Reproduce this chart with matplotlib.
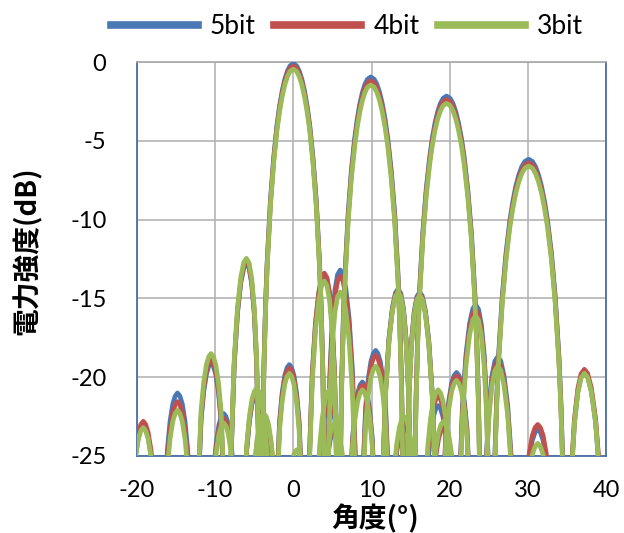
import matplotlib
matplotlib.use("Agg")
import matplotlib.pyplot as plt
from matplotlib.lines import Line2D

# ---------------- data (angle in degrees, power in dB) ----------------
series_names = ["5bit", "4bit", "3bit"]
series_colors = ["#4A78B5", "#C0504D", "#9BBB59"]
x_ticks = [-20, -10, 0, 10, 20, 30, 40]
y_ticks = [-25, -20, -15, -10, -5, 0]

# ---- beam steered to 0 deg ----
ang_b0 = [-21.41,
          -20.97, -20.52, -20.17, -19.82, -19.51, -19.20, -18.89, -18.58, -18.22, -17.87, -17.42,
          -16.98,
          -16.55, -16.11, -15.77, -15.42, -15.12, -14.82, -14.51, -14.21, -13.86, -13.52, -13.08,
          -12.65,
          -12.23, -11.80, -11.46, -11.12, -10.82, -10.53, -10.23, -9.93, -9.59, -9.25, -8.83,
          -8.40,
          -7.98, -7.56, -7.14, -6.72, -6.34, -6.00, -5.66, -5.33, -4.99, -4.70, -4.44,
          -4.19,
          -3.98, -3.77, -3.56, -3.35, -2.93, -2.51, -2.10, -1.76, -1.42, -1.09, -0.75, -0.42, 0.00,
          0.42, 0.75, 1.09, 1.42, 1.76, 2.10, 2.51, 2.93, 3.35, 3.56, 3.77, 3.98,
          4.19,
          4.44, 4.70, 4.99, 5.33, 5.66, 6.00, 6.34, 6.72, 7.14, 7.56, 7.98,
          8.40,
          8.83, 9.25, 9.59, 9.93, 10.23, 10.53, 10.82, 11.12, 11.46, 11.80, 12.23,
          12.65, 16.98,
          17.42, 17.87, 18.22, 18.58, 18.89, 19.20, 19.51, 19.82, 20.17, 20.52, 20.97,
          21.41, 40.0]
db5_b0 = [-40,
          -31.9, -26.7, -24.9, -23.8, -23.3, -23.1, -23.3, -23.8, -24.9, -26.7, -31.9,
          -40,
          -29.8, -24.6, -22.8, -21.7, -21.2, -21.0, -21.2, -21.7, -22.8, -24.6, -29.8,
          -40,
          -27.9, -22.7, -20.9, -19.8, -19.3, -19.1, -19.3, -19.8, -20.9, -22.7, -27.9,
          -40,
          -25.3, -19.2, -15.9, -14.0, -13.06, -12.8, -13.09, -14.05, -16.0, -19.1, -24.5,
          -40,
          -25.7, -19.4, -15.5, -12.7, -8.78, -6.05, -4.02, -2.79, -1.82, -1.09, -0.57, -0.24, -0.1,
          -0.24, -0.57, -1.09, -1.82, -2.79, -4.02, -6.05, -8.78, -12.7, -15.5, -19.4, -25.7,
          -40,
          -24.9, -19.5, -16.4, -14.45, -13.49, -13.2, -13.46, -14.4, -16.3, -19.6, -25.7,
          -40,
          -27.1, -21.9, -20.1, -19.0, -18.5, -18.3, -18.5, -19.0, -20.1, -21.9, -27.1,
          -40, -40,
          -31.8, -26.6, -24.8, -23.7, -23.2, -23.0, -23.2, -23.7, -24.8, -26.6, -31.8,
          -40, -40]
db4_b0 = [-40,
          -31.6, -26.4, -24.6, -23.5, -23.0, -22.8, -23.0, -23.5, -24.6, -26.4, -31.6,
          -40,
          -30.35, -25.15, -23.35, -22.25, -21.75, -21.55, -21.75, -22.25, -23.35, -25.15, -30.35,
          -40,
          -27.7, -22.5, -20.7, -19.6, -19.1, -18.9, -19.1, -19.6, -20.7, -22.5, -27.7,
          -40,
          -25.2, -19.1, -15.8, -13.9, -12.96, -12.7, -12.99, -13.95, -15.9, -19.0, -24.4,
          -40,
          -25.85, -19.55, -15.65, -12.85, -8.93, -6.2, -4.17, -2.94, -1.97, -1.24, -0.72, -0.39, -0.25,
          -0.39, -0.72, -1.24, -1.97, -2.94, -4.17, -6.2, -8.93, -12.85, -15.65, -19.55, -25.85,
          -40,
          -25.3, -19.9, -16.8, -14.85, -13.89, -13.6, -13.86, -14.8, -16.7, -20.0, -26.1,
          -40,
          -27.4, -22.2, -20.4, -19.3, -18.8, -18.6, -18.8, -19.3, -20.4, -22.2, -27.4,
          -40, -40,
          -32.0, -26.8, -25.0, -23.9, -23.4, -23.2, -23.4, -23.9, -25.0, -26.8, -32.0,
          -40, -40]
db3_b0 = [-40,
          -32.0, -26.8, -25.0, -23.9, -23.4, -23.2, -23.4, -23.9, -25.0, -26.8, -32.0,
          -40,
          -30.9, -25.7, -23.9, -22.8, -22.3, -22.1, -22.3, -22.8, -23.9, -25.7, -30.9,
          -40,
          -27.3, -22.1, -20.3, -19.2, -18.7, -18.5, -18.7, -19.2, -20.3, -22.1, -27.3,
          -40,
          -24.96, -18.86, -15.56, -13.66, -12.72, -12.46, -12.75, -13.71, -15.66, -18.76, -24.16,
          -40,
          -26.05, -19.75, -15.85, -13.05, -9.13, -6.4, -4.37, -3.14, -2.17, -1.44, -0.92, -0.59, -0.45,
          -0.59, -0.92, -1.44, -2.17, -3.14, -4.37, -6.4, -9.13, -13.05, -15.85, -19.75, -26.05,
          -40,
          -26.3, -20.9, -17.8, -15.85, -14.89, -14.6, -14.86, -15.8, -17.7, -21.0, -27.1,
          -40,
          -28.1, -22.9, -21.1, -20.0, -19.5, -19.3, -19.5, -20.0, -21.1, -22.9, -28.1,
          -40, -40,
          -31.6, -26.4, -24.6, -23.5, -23.0, -22.8, -23.0, -23.5, -24.6, -26.4, -31.6,
          -40, -40]

# ---- beam steered to 10 deg ----
ang_b10 = [-20.0, -11.03,
           -10.61, -10.18, -9.85, -9.51, -9.21, -8.92, -8.62, -8.32, -7.98, -7.65, -7.22,
           -6.80,
           -6.38, -5.96, -5.62, -5.29, -4.99, -4.70, -4.41, -4.11, -3.78, -3.44, -3.02,
           -2.60,
           -2.18, -1.76, -1.43, -1.10, -0.80, -0.51, -0.22, 0.08, 0.41, 0.74, 1.16,
           1.58,
           2.00, 2.42, 2.84, 3.26, 3.63, 3.97, 4.30, 4.64, 4.97, 5.27, 5.52,
           5.77,
           5.98, 6.18, 6.39, 6.60, 7.01, 7.42, 7.84, 8.17, 8.50, 8.83, 9.16, 9.49, 9.90,
           10.34, 10.69, 11.04, 11.39, 11.74, 12.09, 12.53, 12.97, 13.40, 13.62, 13.84, 14.06,
           14.28,
           14.54, 14.80, 15.11, 15.46, 15.81, 16.16, 16.50, 16.90, 17.33, 17.77, 18.20,
           18.64,
           19.09, 19.54, 19.89, 20.25, 20.57, 20.88, 21.19, 21.51, 21.87, 22.22, 22.67,
           23.12, 40.0]
db5_b10 = [-40, -40,
           -31.1, -25.9, -24.1, -23.0, -22.5, -22.3, -22.5, -23.0, -24.1, -25.9, -31.1,
           -40,
           -29.8, -24.6, -22.8, -21.7, -21.2, -21.0, -21.2, -21.7, -22.8, -24.6, -29.8,
           -40,
           -28.0, -22.8, -21.0, -19.9, -19.4, -19.2, -19.4, -19.9, -21.0, -22.8, -28.0,
           -40,
           -26.0, -19.9, -16.6, -14.7, -13.76, -13.5, -13.79, -14.75, -16.7, -19.8, -25.2,
           -40,
           -26.55, -20.25, -16.35, -13.55, -9.63, -6.9, -4.87, -3.64, -2.67, -1.94, -1.42, -1.09, -0.95,
           -1.09, -1.42, -1.94, -2.67, -3.64, -4.87, -6.9, -9.63, -13.55, -16.35, -20.25, -26.55,
           -40,
           -26.3, -20.9, -17.8, -15.85, -14.89, -14.6, -14.86, -15.8, -17.7, -21.0, -27.1,
           -40,
           -28.5, -23.3, -21.5, -20.4, -19.9, -19.7, -19.9, -20.4, -21.5, -23.3, -28.5,
           -40, -40]
db4_b10 = [-40, -40,
           -31.4, -26.2, -24.4, -23.3, -22.8, -22.6, -22.8, -23.3, -24.4, -26.2, -31.4,
           -40,
           -29.7, -24.5, -22.7, -21.6, -21.1, -20.9, -21.1, -21.6, -22.7, -24.5, -29.7,
           -40,
           -28.2, -23.0, -21.2, -20.1, -19.6, -19.4, -19.6, -20.1, -21.2, -23.0, -28.2,
           -40,
           -25.9, -19.8, -16.5, -14.6, -13.66, -13.4, -13.69, -14.65, -16.6, -19.7, -25.1,
           -40,
           -26.79, -20.49, -16.59, -13.79, -9.87, -7.14, -5.11, -3.88, -2.91, -2.18, -1.66, -1.33, -1.19,
           -1.33, -1.66, -2.18, -2.91, -3.88, -5.11, -7.14, -9.87, -13.79, -16.59, -20.49, -26.79,
           -40,
           -26.4, -21.0, -17.9, -15.95, -14.99, -14.7, -14.96, -15.9, -17.8, -21.1, -27.2,
           -40,
           -28.7, -23.5, -21.7, -20.6, -20.1, -19.9, -20.1, -20.6, -21.7, -23.5, -28.7,
           -40, -40]
db3_b10 = [-40, -40,
           -31.7, -26.5, -24.7, -23.6, -23.1, -22.9, -23.1, -23.6, -24.7, -26.5, -31.7,
           -40,
           -29.5, -24.3, -22.5, -21.4, -20.9, -20.7, -20.9, -21.4, -22.5, -24.3, -29.5,
           -40,
           -28.55, -23.35, -21.55, -20.45, -19.95, -19.75, -19.95, -20.45, -21.55, -23.35, -28.55,
           -40,
           -26.4, -20.3, -17.0, -15.1, -14.16, -13.9, -14.19, -15.15, -17.1, -20.2, -25.6,
           -40,
           -27.06, -20.76, -16.86, -14.06, -10.14, -7.41, -5.38, -4.15, -3.18, -2.45, -1.93, -1.6, -1.46,
           -1.6, -1.93, -2.45, -3.18, -4.15, -5.38, -7.41, -10.14, -14.06, -16.86, -20.76, -27.06,
           -40,
           -26.5, -21.1, -18.0, -16.05, -15.09, -14.8, -15.06, -16.0, -17.9, -21.2, -27.3,
           -40,
           -29.0, -23.8, -22.0, -20.9, -20.4, -20.2, -20.4, -20.9, -22.0, -23.8, -29.0,
           -40, -40]

# ---- beam steered to 20 deg ----
ang_b20 = [-20.0, -5.85,
           -5.43, -5.01, -4.68, -4.34, -4.05, -3.76, -3.46, -3.17, -2.83, -2.50, -2.08,
           -1.66,
           -1.24, -0.82, -0.49, -0.16, 0.14, 0.43, 0.72, 1.02, 1.35, 1.68, 2.10,
           2.52,
           2.94, 3.36, 3.70, 4.03, 4.33, 4.62, 4.91, 5.21, 5.54, 5.88, 6.30,
           6.72,
           7.14, 7.57, 7.90, 8.24, 8.54, 8.84, 9.13, 9.43, 9.77, 10.10, 10.53,
           10.95,
           11.38, 11.81, 12.24, 12.67, 13.06, 13.40, 13.75, 14.09, 14.43, 14.73, 14.99,
           15.25,
           15.47, 15.69, 15.90, 16.12, 16.56, 16.99, 17.43, 17.77, 18.12, 18.47, 18.82, 19.17, 19.60,
           20.05, 20.42, 20.78, 21.14, 21.51, 21.87, 22.32, 22.78, 23.23, 23.46, 23.69, 23.91,
           24.14,
           24.42, 24.70, 25.03, 25.40, 25.78, 26.15, 26.53, 26.95, 27.42, 27.88, 28.35,
           28.82,
           29.31, 29.80, 30.19, 30.58, 30.92, 31.27, 31.61, 31.95, 32.34, 32.73, 33.22,
           33.71, 40.0]
db5_b20 = [-40, -40,
           -31.5, -26.3, -24.5, -23.4, -22.9, -22.7, -22.9, -23.4, -24.5, -26.3, -31.5,
           -40,
           -34.3, -29.1, -27.3, -26.2, -25.7, -25.5, -25.7, -26.2, -27.3, -29.1, -34.3,
           -40,
           -30.5, -25.3, -23.5, -22.4, -21.9, -21.7, -21.9, -22.4, -23.5, -25.3, -30.5,
           -40,
           -29.1, -23.9, -22.1, -21.0, -20.5, -20.3, -20.5, -21.0, -22.1, -23.9, -29.1,
           -40,
           -26.9, -20.8, -17.5, -15.6, -14.66, -14.4, -14.69, -15.65, -17.6, -20.7, -26.1,
           -40,
           -27.76, -21.46, -17.56, -14.76, -10.84, -8.11, -6.08, -4.85, -3.88, -3.15, -2.63, -2.3, -2.16,
           -2.3, -2.63, -3.15, -3.88, -4.85, -6.08, -8.11, -10.84, -14.76, -17.56, -21.46, -27.76,
           -40,
           -30.4, -25.0, -21.9, -19.95, -18.99, -18.7, -18.96, -19.9, -21.8, -25.1, -31.2,
           -40,
           -32.1, -26.9, -25.1, -24.0, -23.5, -23.3, -23.5, -24.0, -25.1, -26.9, -32.1,
           -40, -40]
db4_b20 = [-40, -40,
           -31.3, -26.1, -24.3, -23.2, -22.7, -22.5, -22.7, -23.2, -24.3, -26.1, -31.3,
           -40,
           -34.1, -28.9, -27.1, -26.0, -25.5, -25.3, -25.5, -26.0, -27.1, -28.9, -34.1,
           -40,
           -30.2, -25.0, -23.2, -22.1, -21.6, -21.4, -21.6, -22.1, -23.2, -25.0, -30.2,
           -40,
           -29.3, -24.1, -22.3, -21.2, -20.7, -20.5, -20.7, -21.2, -22.3, -24.1, -29.3,
           -40,
           -27.0, -20.9, -17.6, -15.7, -14.76, -14.5, -14.79, -15.75, -17.7, -20.8, -26.2,
           -40,
           -27.97, -21.67, -17.77, -14.97, -11.05, -8.32, -6.29, -5.06, -4.09, -3.36, -2.84, -2.51, -2.37,
           -2.51, -2.84, -3.36, -4.09, -5.06, -6.29, -8.32, -11.05, -14.97, -17.77, -21.67, -27.97,
           -40,
           -30.7, -25.3, -22.2, -20.25, -19.29, -19.0, -19.26, -20.2, -22.1, -25.4, -31.5,
           -40,
           -31.8, -26.6, -24.8, -23.7, -23.2, -23.0, -23.2, -23.7, -24.8, -26.6, -31.8,
           -40, -40]
db3_b20 = [-40, -40,
           -31.1, -25.9, -24.1, -23.0, -22.5, -22.3, -22.5, -23.0, -24.1, -25.9, -31.1,
           -40,
           -33.4, -28.2, -26.4, -25.3, -24.8, -24.6, -24.8, -25.3, -26.4, -28.2, -33.4,
           -40,
           -29.6, -24.4, -22.6, -21.5, -21.0, -20.8, -21.0, -21.5, -22.6, -24.4, -29.6,
           -40,
           -29.6, -24.4, -22.6, -21.5, -21.0, -20.8, -21.0, -21.5, -22.6, -24.4, -29.6,
           -40,
           -27.1, -21.0, -17.7, -15.8, -14.86, -14.6, -14.89, -15.85, -17.8, -20.9, -26.3,
           -40,
           -28.22, -21.92, -18.02, -15.22, -11.3, -8.57, -6.54, -5.31, -4.34, -3.61, -3.09, -2.76, -2.62,
           -2.76, -3.09, -3.61, -4.34, -5.31, -6.54, -8.57, -11.3, -15.22, -18.02, -21.92, -28.22,
           -40,
           -31.0, -25.6, -22.5, -20.55, -19.59, -19.3, -19.56, -20.5, -22.4, -25.7, -31.8,
           -40,
           -33.0, -27.8, -26.0, -24.9, -24.4, -24.2, -24.4, -24.9, -26.0, -27.8, -33.0,
           -40, -40]

# ---- beam steered to 30 deg ----
ang_b30 = [-20.0, 3.20,
           3.62, 4.04, 4.38, 4.71, 5.01, 5.30, 5.59, 5.89, 6.22, 6.56, 6.98,
           7.40, 12.00,
           12.43, 12.86, 13.21, 13.56, 13.86, 14.16, 14.46, 14.77, 15.11, 15.46, 15.89,
           16.32,
           16.76, 17.20, 17.56, 17.91, 18.22, 18.53, 18.83, 19.14, 19.50, 19.85, 20.29,
           20.73,
           21.19, 21.64, 22.10, 22.55, 22.96, 23.32, 23.69, 24.05, 24.42, 24.73, 25.01,
           25.28,
           25.52, 25.76, 26.00, 26.24, 26.73, 27.21, 27.69, 28.08, 28.46, 28.85, 29.23, 29.62, 30.10,
           30.59, 30.98, 31.36, 31.75, 32.14, 32.53, 33.02, 33.50, 33.99, 34.23, 34.47, 34.72,
           34.96,
           35.28, 35.59, 35.96, 36.39, 36.81, 37.23, 37.65, 38.13, 38.66, 39.18, 39.71,
           40.24]
db5_b30 = [-40, -40,
           -32.1, -26.9, -25.1, -24.0, -23.5, -23.3, -23.5, -24.0, -25.1, -26.9, -32.1,
           -40, -40,
           -31.8, -26.6, -24.8, -23.7, -23.2, -23.0, -23.2, -23.7, -24.8, -26.6, -31.8,
           -40,
           -30.6, -25.4, -23.6, -22.5, -22.0, -21.8, -22.0, -22.5, -23.6, -25.4, -30.6,
           -40,
           -27.9, -21.8, -18.5, -16.6, -15.66, -15.4, -15.69, -16.65, -18.6, -21.7, -27.1,
           -40,
           -31.77, -25.47, -21.57, -18.77, -14.85, -12.12, -10.09, -8.86, -7.89, -7.16, -6.64, -6.31, -6.17,
           -6.31, -6.64, -7.16, -7.89, -8.86, -10.09, -12.12, -14.85, -18.77, -21.57, -25.47, -31.77,
           -40,
           -31.4, -26.0, -22.9, -20.95, -19.99, -19.7, -19.96, -20.9, -22.8, -26.1, -32.2,
           -40]
db4_b30 = [-40, -40,
           -31.9, -26.7, -24.9, -23.8, -23.3, -23.1, -23.3, -23.8, -24.9, -26.7, -31.9,
           -40, -40,
           -31.6, -26.4, -24.6, -23.5, -23.0, -22.8, -23.0, -23.5, -24.6, -26.4, -31.6,
           -40,
           -30.0, -24.8, -23.0, -21.9, -21.4, -21.2, -21.4, -21.9, -23.0, -24.8, -30.0,
           -40,
           -28.2, -22.1, -18.8, -16.9, -15.96, -15.7, -15.99, -16.95, -18.9, -22.0, -27.4,
           -40,
           -31.99, -25.69, -21.79, -18.99, -15.07, -12.34, -10.31, -9.08, -8.11, -7.38, -6.86, -6.53, -6.39,
           -6.53, -6.86, -7.38, -8.11, -9.08, -10.31, -12.34, -15.07, -18.99, -21.79, -25.69, -31.99,
           -40,
           -31.2, -25.8, -22.7, -20.75, -19.79, -19.5, -19.76, -20.7, -22.6, -25.9, -32.0,
           -40]
db3_b30 = [-40, -40,
           -31.7, -26.5, -24.7, -23.6, -23.1, -22.9, -23.1, -23.6, -24.7, -26.5, -31.7,
           -40, -40,
           -31.3, -26.1, -24.3, -23.2, -22.7, -22.5, -22.7, -23.2, -24.3, -26.1, -31.3,
           -40,
           -29.6, -24.4, -22.6, -21.5, -21.0, -20.8, -21.0, -21.5, -22.6, -24.4, -29.6,
           -40,
           -28.6, -22.5, -19.2, -17.3, -16.36, -16.1, -16.39, -17.35, -19.3, -22.4, -27.8,
           -40,
           -32.2, -25.9, -22.0, -19.2, -15.28, -12.55, -10.52, -9.29, -8.32, -7.59, -7.07, -6.74, -6.6,
           -6.74, -7.07, -7.59, -8.32, -9.29, -10.52, -12.55, -15.28, -19.2, -22.0, -25.9, -32.2,
           -40,
           -31.45, -26.05, -22.95, -21.0, -20.04, -19.75, -20.01, -20.95, -22.85, -26.15, -32.25,
           -40]

beam_angles = [ang_b0, ang_b10, ang_b20, ang_b30]
beam_db = {
    "5bit": [db5_b0, db5_b10, db5_b20, db5_b30],
    "4bit": [db4_b0, db4_b10, db4_b20, db4_b30],
    "3bit": [db3_b0, db3_b10, db3_b20, db3_b30],
}

# ---------------- figure ----------------
fig = plt.figure(figsize=(6.24, 5.33), dpi=100)
ax = fig.add_axes([137 / 624, 1 - 456 / 533, (606 - 137) / 624, (456 - 62) / 533])

for name, color in zip(series_names, series_colors):
    for ang, vals in zip(beam_angles, beam_db[name]):
        ax.plot(ang, vals, color=color, lw=3.4, solid_joinstyle="round",
                solid_capstyle="round", zorder=3)

ax.set_xlim(-20, 40)
ax.set_ylim(-25, 0)
ax.set_xticks(x_ticks)
ax.set_yticks(y_ticks)
ax.grid(True, color="#B4B4B4", lw=1.2, zorder=1)
ax.set_axisbelow(True)

tick_font = {"family": "Lato", "size": 17}
ax.set_xticklabels([str(v) for v in x_ticks], fontdict=tick_font)
ax.set_yticklabels([str(v) for v in y_ticks], fontdict=tick_font)
ax.tick_params(axis="x", length=0, pad=17)
ax.tick_params(axis="y", length=0, pad=22)

for side in ["left", "bottom", "right"]:
    ax.spines[side].set_color("#4A6EA8")
    ax.spines[side].set_linewidth(1.3)
ax.spines["top"].set_color("#A8A8A8")
ax.spines["top"].set_linewidth(1.2)

cjk = ["Noto Sans CJK JP", "DejaVu Sans"]
fig.text(27 / 624, 1 - 251 / 533, "電力強度(dB)", rotation=90, ha="center",
         va="center", family=cjk, fontsize=20, fontweight="bold")
fig.text(375 / 624, 1 - 519 / 533, "角度(°)", ha="center", va="center",
         family=cjk, fontsize=20, fontweight="bold")

handles = [Line2D([0], [0], color=c, lw=5.5) for c in series_colors]
leg = fig.legend(handles, series_names, loc="center", ncol=3,
                 bbox_to_anchor=(347 / 624, 1 - 27 / 533), frameon=False,
                 handlelength=3.3, handletextpad=0.45, columnspacing=0.7,
                 prop={"family": "Lato", "size": 19})

fig.savefig("out.png", dpi=100)
